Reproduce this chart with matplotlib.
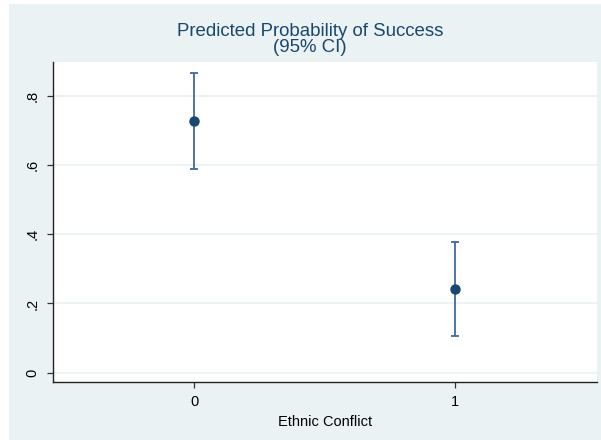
import matplotlib
matplotlib.use("Agg")
import matplotlib.pyplot as plt
from matplotlib.patches import Rectangle

categories = [0, 1]
tick_labels = ["0", "1"]
pred = [0.728, 0.242]
ci_low = [0.588, 0.106]
ci_high = [0.867, 0.378]
yticks = [0, 0.2, 0.4, 0.6, 0.8]
ytick_labels = ["0", ".2", ".4", ".6", ".8"]

plt.rcParams['font.family'] = ['Liberation Sans', 'DejaVu Sans']

bg = "#EAF2F3"
navy = "#1A476F"
ci_col = "#3D6C9E"

fig = plt.figure(figsize=(6.01, 4.40), dpi=100, facecolor="white")
fig.patches.append(Rectangle((9/601, 0), 1 - 9/601, (440 - 4)/440,
                             transform=fig.transFigure, facecolor=bg,
                             edgecolor="none", zorder=-10))
ax = fig.add_axes([53/601, 58/440, (597-53)/601, (382-62)/440])
ax.set_zorder(1)
ax.set_facecolor("white")

yerr = [[p - l for p, l in zip(pred, ci_low)], [h - p for p, h in zip(pred, ci_high)]]
ax.errorbar(categories, pred, yerr=yerr, fmt="none", ecolor=ci_col,
            elinewidth=1.3, capsize=3.2, capthick=1.3, zorder=3)
ax.plot(categories, pred, "o", color=navy, markersize=6.5, zorder=4)

ax.set_xlim(-0.54, 1.542)
ax.set_ylim(-0.027, 0.898)
ax.set_yticks(yticks)
ax.set_yticklabels(ytick_labels, rotation=90, va="center")
ax.set_xticks(categories)
ax.set_xticklabels(tick_labels)
ax.grid(axis="y", color=bg, linewidth=1.2)
ax.set_axisbelow(True)
for s in ["top", "right"]:
    ax.spines[s].set_visible(False)
for s in ["left", "bottom"]:
    ax.spines[s].set_color("#222222")
    ax.spines[s].set_linewidth(1.0)
ax.tick_params(axis="both", colors="#333333", labelcolor="black",
               length=4.5, width=0.9, labelsize=10.5, pad=5)
ax.set_xlabel("Ethnic Conflict", fontsize=10.5, labelpad=4)

fig.text(310/601, 1 - 32/440, "Predicted Probability of Success", ha="center",
         va="center", fontsize=13.4, color=navy)
fig.text(310/601, 1 - 47.5/440, "(95% CI)", ha="center", va="center",
         fontsize=13.4, color=navy)

fig.savefig("out.png", dpi=100, facecolor="white")
